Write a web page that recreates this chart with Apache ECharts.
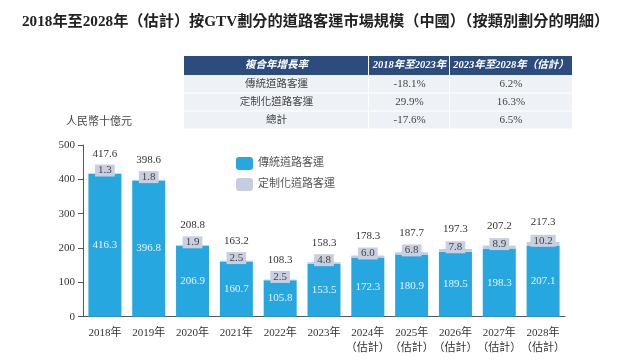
<!DOCTYPE html>
<html><head><meta charset="utf-8">
<script src="https://cdn.jsdelivr.net/npm/echarts@6/dist/echarts.min.js"></script>
<style>html,body{margin:0;padding:0;background:#fff}#c{width:644px;height:364px}</style>
</head><body><div id="c"></div>
<script>
const categories = ['2018年','2019年','2020年','2021年','2022年','2023年','2024年\n（估計）','2025年\n（估計）','2026年\n（估計）','2027年\n（估計）','2028年\n（估計）'];
const traditional = [416.3,396.8,206.9,160.7,105.8,153.5,172.3,180.9,189.5,198.3,207.1];
const customized = [1.3,1.8,1.9,2.5,2.5,4.8,6.0,6.8,7.8,8.9,10.2];
const totals = [417.6,398.6,208.8,163.2,108.3,158.3,178.3,187.7,197.3,207.2,217.3];
const yTicks = [0,100,200,300,400,500];
const seriesNames = ['傳統道路客運','定制化道路客運'];
const tableHeader = ['複合年增長率','2018年至2023年','2023年至2028年（估計）'];
const tableRows = [
  ['傳統道路客運','-18.1%','6.2%'],
  ['定制化道路客運','29.9%','16.3%'],
  ['總計','-17.6%','6.5%']
];
const titleText = '2018年至2028年（估計）按GTV劃分的道路客運市場規模（中國）（按類別劃分的明細）';
const unitText = '人民幣十億元';

const SERIF = '"Liberation Serif","Noto Sans CJK TC",serif';
const colX = [184, 369, 450, 572];
const rowY = [56, 75, 93.5, 111.5, 129.5];
const graphics = [];
graphics.push({type:'text', left:22, top:14, style:{text:titleText, font:'bold 15.2px '+SERIF, fill:'#222'}});
graphics.push({type:'text', left:66, top:117, style:{text:unitText, font:'11px '+SERIF, fill:'#444'}});
for (let c = 0; c < 3; c++) {
  graphics.push({type:'rect', shape:{x:colX[c], y:rowY[0], width:colX[c+1]-colX[c]-(c<2?1:0), height:rowY[1]-rowY[0]}, style:{fill:'#2c4c7d'}});
  graphics.push({type:'text', x:(colX[c]+colX[c+1])/2, y:(rowY[0]+rowY[1])/2, style:{text:tableHeader[c], font:'italic bold 10.5px '+SERIF, fill:'#fff', align:'center', verticalAlign:'middle'}});
}
for (let r = 0; r < tableRows.length; r++) {
  for (let c = 0; c < 3; c++) {
    graphics.push({type:'rect', shape:{x:colX[c], y:rowY[r+1], width:colX[c+1]-colX[c]-(c<2?1:0), height:rowY[r+2]-rowY[r+1]-1}, style:{fill:'#eef1f6'}});
    graphics.push({type:'text', x:(colX[c]+colX[c+1])/2, y:(rowY[r+1]+rowY[r+2])/2, style:{text:tableRows[r][c], font:(c===0?'10.5px ':'11px ')+SERIF, fill:'#444', align:'center', verticalAlign:'middle'}});
  }
}

const chart = echarts.init(document.getElementById('c'));
chart.setOption({
  animation:false,
  graphic: graphics,
  legend:{
    orient:'vertical', left:231, top:152, itemWidth:17, itemHeight:13, itemGap:8,
    data: seriesNames,
    textStyle:{fontFamily:SERIF, fontSize:11, color:'#555'}
  },
  grid:{left:83, right:79, top:145, bottom:47.3},
  xAxis:{
    type:'category', data:categories,
    axisLine:{lineStyle:{color:'#555', width:1}},
    axisTick:{show:false},
    axisLabel:{interval:0, fontFamily:SERIF, fontSize:11, color:'#333', margin:9, lineHeight:15}
  },
  yAxis:{
    type:'value', min:0, max:500, interval:100,
    axisLine:{show:true, lineStyle:{color:'#555'}},
    axisTick:{show:true, inside:false, length:5, lineStyle:{color:'#555'}},
    splitLine:{show:false},
    axisLabel:{fontFamily:SERIF, fontSize:11, color:'#333', margin:8,
      formatter:(v)=> yTicks.includes(v) ? String(v) : ''}
  },
  series:[
    {name:seriesNames[0], type:'bar', stack:'a', data:traditional, barWidth:33, barGap:'-100%',
      itemStyle:{color:'#27a7df'},
      label:{show:true, position:'inside', fontFamily:SERIF, fontSize:11, color:'#e6f4fb',
        formatter:(p)=>p.value.toFixed(1)}},
    {name:seriesNames[1], type:'bar', stack:'a', data:customized, barWidth:33, barGap:'-100%',
      itemStyle:{color:'#c7cde0'},
      label:{show:true, position:'inside', offset:[0,-3], fontFamily:SERIF, fontSize:11, color:'#444',
        backgroundColor:'#c9cfe1', padding:[1,3,0,3], formatter:(p)=>p.value.toFixed(1)}},
    {name:'total', type:'bar', data:totals, barWidth:33, barGap:'-100%', z:1, silent:true,
      itemStyle:{color:'rgba(0,0,0,0)'},
      label:{show:true, position:'top', distance:14, fontFamily:SERIF, fontSize:11, color:'#333',
        formatter:(p)=>p.value.toFixed(1)}}
  ]
});
</script></body></html>
